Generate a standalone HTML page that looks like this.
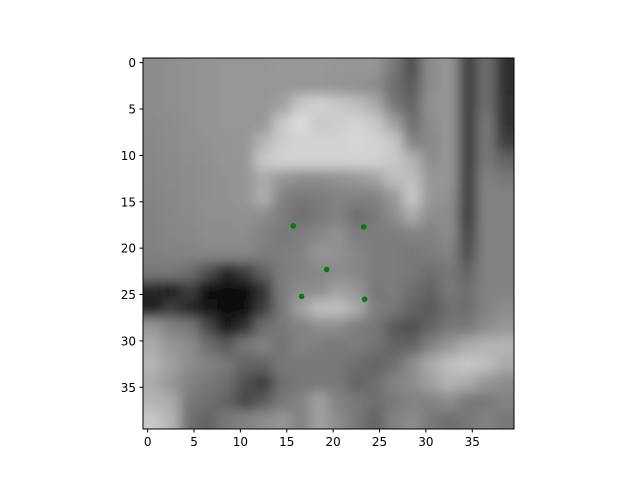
<!DOCTYPE html>
<html><head><meta charset="utf-8"><style>
body{margin:0;background:#fff}
text{font-family:"DejaVu Sans","Liberation Sans",sans-serif;font-size:12px;fill:#000}
</style></head><body>
<svg id="chart" width="640" height="480">
<defs>
<clipPath id="clip"><rect x="143" y="58" width="371" height="371"/></clipPath>
<filter id="blur" x="80" y="0" width="500" height="490" filterUnits="userSpaceOnUse"><feGaussianBlur stdDeviation="6"/></filter>
</defs>
<g id="img" clip-path="url(#clip)"><g id="cells" filter="url(#blur)"></g></g>
<g id="pts"></g>
<rect x="143" y="58" width="371" height="371" fill="none" stroke="#000" stroke-width="1"/>
<g id="ticks"></g>
</svg>
<script>
const grid = [
[140,142,145,148,150,150,150,152,152,152,150,150,150,120,80,140,150,60,110,45],
[140,142,145,148,150,150,150,150,150,150,148,145,140,110,90,140,150,60,110,45],
[140,142,145,148,150,150,150,160,200,210,200,190,170,120,100,145,150,60,110,50],
[138,140,145,148,150,150,150,200,220,200,205,210,200,160,110,140,150,60,120,50],
[136,140,143,146,148,150,180,205,210,210,210,215,210,200,130,135,150,60,120,60],
[135,138,142,145,148,150,200,210,210,210,210,210,210,200,180,140,150,60,120,100],
[135,137,140,143,145,150,170,150,140,140,145,150,160,190,190,150,150,60,130,120],
[133,136,140,143,145,150,175,130,120,125,130,130,130,150,200,150,145,60,130,130],
[130,135,138,142,143,145,140,125,110,120,130,110,120,140,170,140,140,60,130,130],
[130,134,136,140,140,140,130,120,125,135,145,125,125,125,130,130,140,70,130,130],
[128,130,132,135,135,135,125,125,130,150,145,135,125,125,120,125,130,80,130,130],
[120,120,110,80,40,60,100,125,130,135,140,135,125,125,120,110,120,100,130,130],
[40,30,60,15,10,15,50,125,140,140,160,150,120,125,110,100,120,110,130,130],
[30,60,40,20,10,15,60,120,160,190,190,170,125,120,100,90,110,110,130,140],
[150,130,120,70,20,50,110,120,130,140,140,125,120,90,80,100,120,120,140,150],
[170,150,140,110,90,120,130,115,130,125,120,125,115,100,100,130,150,170,180,180],
[180,160,140,130,120,100,100,120,120,120,120,110,100,110,140,170,190,200,190,170],
[170,150,130,120,110,80,60,110,120,120,120,100,110,130,140,160,180,170,150,140],
[180,170,120,110,100,70,90,120,130,160,130,120,110,120,130,130,140,120,120,130],
[200,180,110,100,120,130,140,150,130,160,140,120,100,130,140,120,110,120,130,120]
];
const ptX = [15.7, 23.3, 19.3, 16.6, 23.4];
const ptY = [17.6, 17.7, 22.3, 25.2, 25.5];
const xTicks = [0,5,10,15,20,25,30,35];
const yTicks = [0,5,10,15,20,25,30,35];
const NS="http://www.w3.org/2000/svg";
const U=371/40;
function sx(v){return 143+(v+0.5)*U;}
function sy(v){return 58+(v+0.5)*U;}
const cells=document.getElementById('cells');
const n=grid.length, cw=40/n, PAD=50;
grid.forEach((row,r)=>row.forEach((g,c)=>{
  let x0=sx(c*cw-0.5), y0=sy(r*cw-0.5), x1=x0+cw*U, y1=y0+cw*U;
  if(c===0) x0-=PAD; if(c===n-1) x1+=PAD;
  if(r===0) y0-=PAD; if(r===n-1) y1+=PAD;
  const e=document.createElementNS(NS,'rect');
  e.setAttribute('x',x0);e.setAttribute('y',y0);
  e.setAttribute('width',x1-x0+0.5);e.setAttribute('height',y1-y0+0.5);
  e.setAttribute('fill',`rgb(${g},${g},${g})`);
  
  
  cells.appendChild(e);
}));
const pts=document.getElementById('pts');
ptX.forEach((x,i)=>{
  const e=document.createElementNS(NS,'circle');
  e.setAttribute('cx',sx(x));e.setAttribute('cy',sy(ptY[i]));e.setAttribute('r',2.8);
  e.setAttribute('fill','#008000');
  
  
  pts.appendChild(e);
});
const tk=document.getElementById('ticks');
xTicks.forEach(v=>{
  const l=document.createElementNS(NS,'line');
  l.setAttribute('x1',sx(v));l.setAttribute('x2',sx(v));l.setAttribute('y1',429);l.setAttribute('y2',432.5);l.setAttribute('stroke','#000');
  
  
  tk.appendChild(l);
  const t=document.createElementNS(NS,'text');
  t.setAttribute('x',sx(v));t.setAttribute('y',446);t.setAttribute('text-anchor','middle');t.textContent=v;
  
  
  tk.appendChild(t);
});
yTicks.forEach(v=>{
  const l=document.createElementNS(NS,'line');
  l.setAttribute('x1',139.5);l.setAttribute('x2',143);l.setAttribute('y1',sy(v));l.setAttribute('y2',sy(v));l.setAttribute('stroke','#000');
  
  
  tk.appendChild(l);
  const t=document.createElementNS(NS,'text');
  t.setAttribute('x',136);t.setAttribute('y',sy(v)+4.5);t.setAttribute('text-anchor','end');t.textContent=v;
  
  
  tk.appendChild(t);
});
</script>
</body></html>
